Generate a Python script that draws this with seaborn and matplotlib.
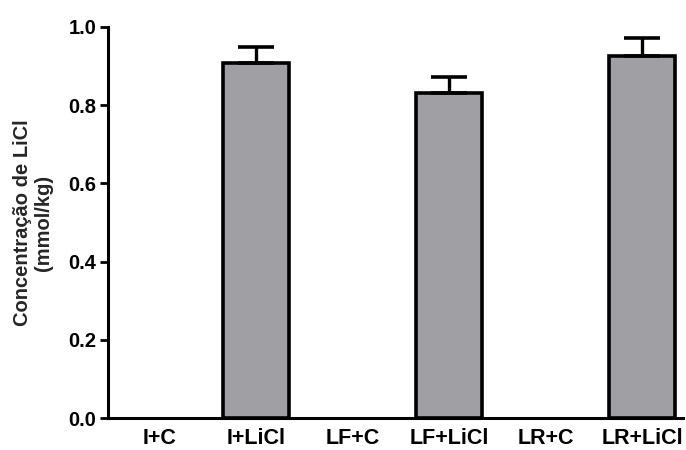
import matplotlib
matplotlib.use("Agg")
import matplotlib.pyplot as plt
import seaborn as sns
import pandas as pd
import numpy as np

groups = ["I+C", "I+LiCl", "LF+C", "LF+LiCl", "LR+C", "LR+LiCl"]
means = [0.0, 0.908, 0.0, 0.830, 0.0, 0.926]
sems = [0.0, 0.042, 0.0, 0.043, 0.0, 0.045]

sns.set_theme(style="ticks")
plt.rcParams["font.family"] = ["Liberation Sans", "DejaVu Sans"]
plt.rcParams["font.weight"] = "bold"

df = pd.DataFrame({"grupo": groups, "conc": means})

fig = plt.figure(figsize=(6.86, 4.5), dpi=100)
ax = fig.add_axes([0.157, 0.071, 0.838, 0.869])

sns.barplot(data=df, x="grupo", y="conc", order=groups, color="#a0a0a4",
            saturation=1, width=0.68, edgecolor="black", linewidth=2.6,
            errorbar=None, ax=ax)

# empty groups: no outline drawn on the baseline
for p in ax.patches:
    if p.get_height() == 0:
        p.set_linewidth(0)

# upper-only error bars centred on each bar
xs = [p.get_x() + p.get_width() / 2 for p in ax.patches]
hs = [p.get_height() for p in ax.patches]
mask = np.array(sems) > 0
ax.errorbar(np.array(xs)[mask], np.array(hs)[mask],
            yerr=[np.zeros(mask.sum()), np.array(sems)[mask]],
            fmt="none", ecolor="black", elinewidth=2.4, capsize=13,
            capthick=2.6, zorder=1)

ax.set_ylim(0, 1.0)
ax.set_xlim(-0.54, 5.42)
ax.set_yticks([0.0, 0.2, 0.4, 0.6, 0.8, 1.0])
ax.set_yticklabels(["0.0", "0.2", "0.4", "0.6", "0.8", "1.0"])
ax.set_xlabel("")
ax.set_ylabel("Concentração de LiCl\n(mmol/kg)", fontsize=14.5, fontweight="bold",
              labelpad=11, linespacing=1.15)

for s in ["top", "right"]:
    ax.spines[s].set_visible(False)
for s in ["left", "bottom"]:
    ax.spines[s].set_linewidth(2.2)
    ax.spines[s].set_color("black")

ax.tick_params(axis="y", direction="out", length=6, width=2, labelsize=14.5, pad=2,
               colors="black")
ax.tick_params(axis="x", length=0, labelsize=15.5, pad=7, colors="black")
for lab in ax.get_xticklabels() + ax.get_yticklabels():
    lab.set_fontweight("bold")

fig.savefig("out.png", dpi=100, facecolor="white")
